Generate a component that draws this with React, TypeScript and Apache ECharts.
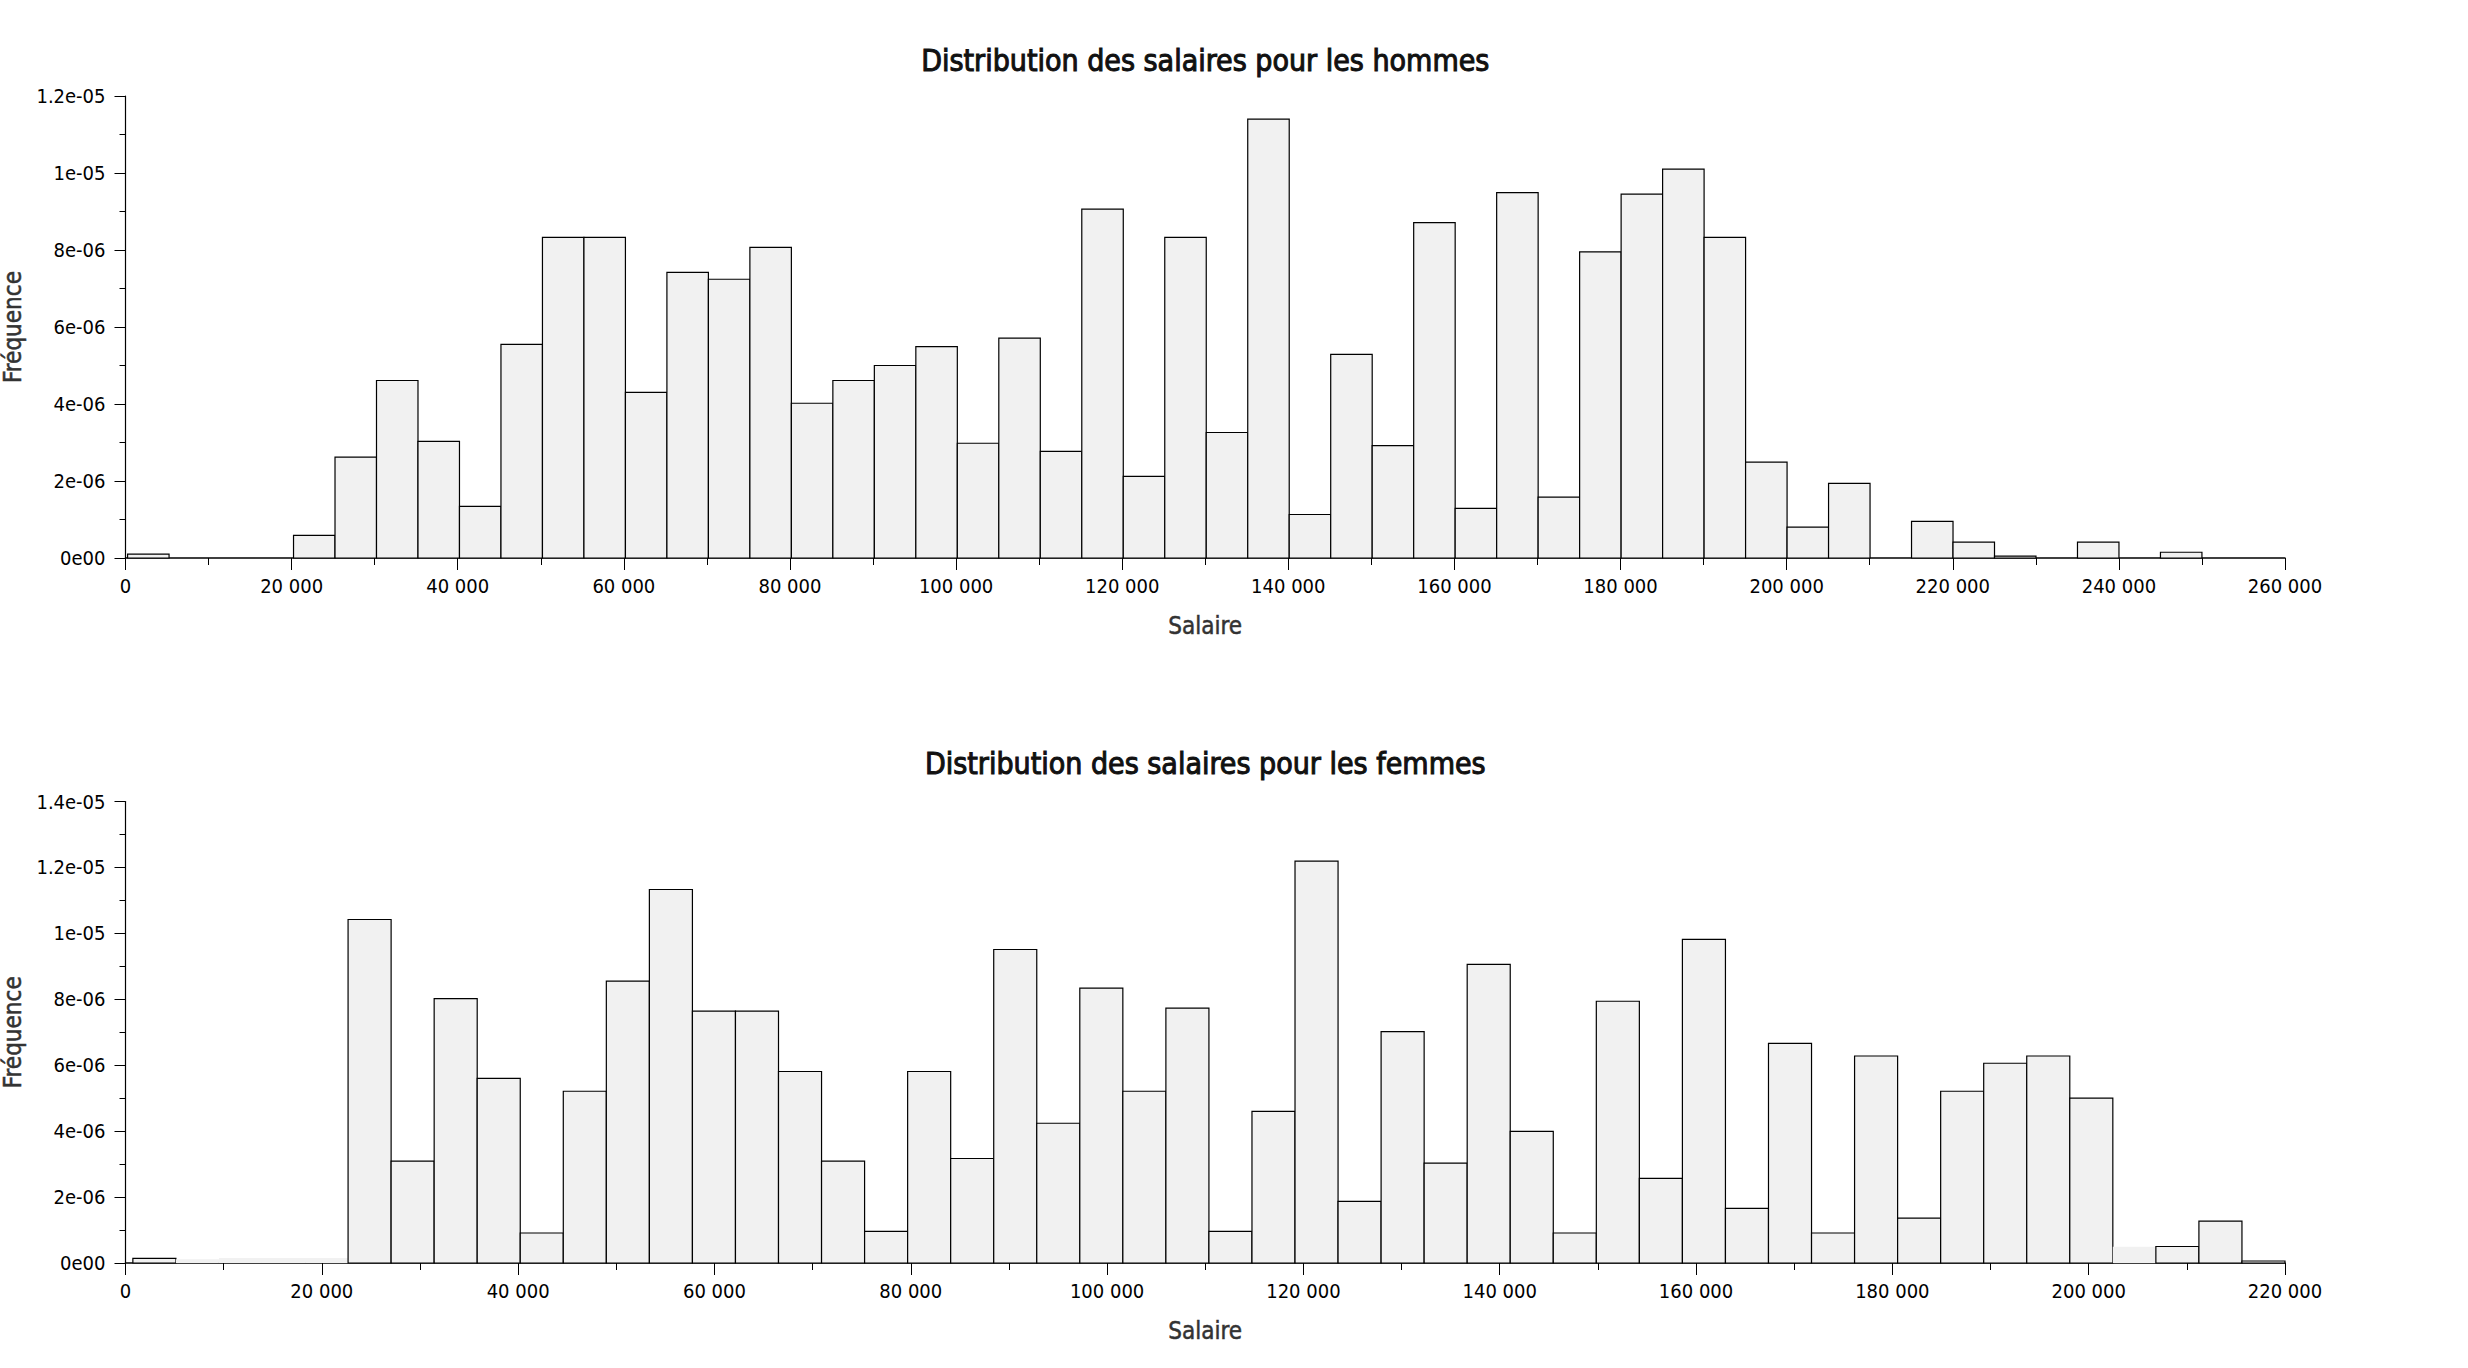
import React, { useEffect, useRef } from "react";
import * as echarts from "echarts";

// Histogramme des hommes : 50 classes, fréquences en unités de 1e-6
const hommesBinStart = 250;
const hommesBinWidth = 4995;
const hommesFreq = [
  0.1, 0, 0, 0, 0.59, 2.62, 4.61, 3.03, 1.34, 5.55,
  8.33, 8.33, 4.3, 7.42, 7.24, 8.07, 4.02, 4.61, 5.0, 5.49,
  2.98, 5.71, 2.77, 9.06, 2.12, 8.33, 3.26, 11.4, 1.13, 5.29,
  2.92, 8.71, 1.29, 9.49, 1.58, 7.95, 9.45, 10.1, 8.33, 2.49,
  0.8, 1.94, 0, 0.95, 0.41, 0.05, 0, 0.41, 0, 0.15,
];

// Histogramme des femmes : 50 classes, fréquences en unités de 1e-6
const femmesBinStart = 750;
const femmesBinWidth = 4385;
const femmesFreq = [
  0.14, 0.11, 0.15, 0.15, 0.15, 10.42, 3.09, 8.02, 5.6, 0.91,
  5.21, 8.55, 11.33, 7.64, 7.64, 5.81, 3.09, 0.96, 5.81, 3.17,
  9.51, 4.24, 8.34, 5.21, 7.73, 0.96, 4.6, 12.19, 1.87, 7.02,
  3.03, 9.06, 3.99, 0.91, 7.94, 2.57, 9.82, 1.66, 6.66, 0.91,
  6.28, 1.36, 5.21, 6.06, 6.28, 5.0, 0.49, 0.5, 1.27, 0.06,
];
// classes dessinées sans contour dans l'original
const femmesSansContour = [1, 2, 3, 4, 46];

const titles = [
  "Distribution des salaires pour les hommes",
  "Distribution des salaires pour les femmes",
];
const xName = "Salaire";
const yName = "Fréquence";
const xMax = [260000, 220000];
const yMax = [1.2e-5, 1.4e-5];

const FONT = "'DejaVu Sans Condensed', 'DejaVu Sans', sans-serif";

function buildData(start: number, width: number, freq: number[]) {
  return freq.map((f, i) => [start + i * width, start + (i + 1) * width, f * 1e-6, i]);
}

function fmtX(v: number) {
  return String(Math.round(v)).replace(/\B(?=(\d{3})+(?!\d))/g, " ");
}

function fmtY(v: number) {
  if (Math.abs(v) < 1e-12) return "0e00";
  const s = Number(v.toPrecision(6)).toExponential();
  return s.replace(/e([+-])(\d)$/, "e$10$2");
}

export default function App() {
  const ref = useRef<HTMLDivElement>(null);
  useEffect(() => {
    if (!ref.current) return;
    const chart = echarts.init(ref.current, undefined, { renderer: "svg" });

    const plotLeft = 125.5;
    const plotRight = 2285;
    const grids = [
      { left: plotLeft, top: 96, width: plotRight - plotLeft, height: 462, containLabel: false, outerBoundsMode: "none" },
      { left: plotLeft, top: 801.5, width: plotRight - plotLeft, height: 461.5, containLabel: false, outerBoundsMode: "none" },
    ];
    const titleY = [60, 763.5];

    const mkRender = (noBorder: number[]) => (params: any, api: any) => {
      const x0 = api.value(0);
      const x1 = api.value(1);
      const y = api.value(2);
      const idx = api.value(3);
      if (!(y > 0)) return null;
      const p0 = api.coord([x0, y]);
      const p1 = api.coord([x1, 0]);
      const bordered = noBorder.indexOf(idx) < 0;
      return {
        type: "rect",
        shape: { x: p0[0], y: p0[1], width: p1[0] - p0[0], height: p1[1] - p0[1] },
        style: {
          fill: "#f1f1f1",
          stroke: bordered ? "#000" : null,
          lineWidth: bordered ? 1.2 : 0,
        },
      };
    };

    const nameStyle = {
      fontFamily: FONT,
      fontSize: 24,
      fontWeight: "normal",
      color: "#333",
      textBorderColor: "#333",
      textBorderWidth: 0.5,
    };

    const xAxisBase = (i: number) => ({
      type: "value",
      gridIndex: i,
      min: 0,
      max: xMax[i],
      interval: 20000,
      name: xName,
      nameLocation: "middle",
      nameGap: 56,
      nameTextStyle: nameStyle,
      axisLine: { show: true, onZero: false, lineStyle: { color: "#000", width: 1.5 } },
      axisTick: { show: true, inside: false, length: 12, lineStyle: { color: "#000", width: 1 } },
      minorTick: { show: true, splitNumber: 2, length: 7, lineStyle: { color: "#000", width: 1 } },
      splitLine: { show: false },
      minorSplitLine: { show: false },
      axisLabel: { margin: 18, fontFamily: FONT, fontSize: 20, color: "#000", formatter: fmtX },
    });

    const yAxisBase = (i: number) => ({
      type: "value",
      gridIndex: i,
      min: 0,
      max: yMax[i],
      interval: 2e-6,
      name: yName,
      nameLocation: "middle",
      nameRotate: 90,
      nameGap: 99,
      nameTextStyle: nameStyle,
      axisLine: { show: true, onZero: false, lineStyle: { color: "#000", width: 1.2 } },
      axisTick: { show: true, inside: false, length: 11, lineStyle: { color: "#000", width: 1 } },
      minorTick: { show: true, splitNumber: 2, length: 6, lineStyle: { color: "#000", width: 1 } },
      splitLine: { show: false },
      minorSplitLine: { show: false },
      axisLabel: { margin: 20, fontFamily: FONT, fontSize: 20, color: "#000", formatter: fmtY },
    });

    chart.setOption({
      animation: false,
      backgroundColor: "#ffffff",
      title: titles.map((t, i) => ({
        text: t,
        left: (plotLeft + plotRight) / 2,
        top: titleY[i],
        textAlign: "center",
        textVerticalAlign: "middle",
        padding: 0,
        textStyle: {
          fontFamily: FONT,
          fontSize: 30,
          fontWeight: "normal",
          color: "#111",
          textBorderColor: "#111",
          textBorderWidth: 1,
        },
      })),
      grid: grids,
      xAxis: [xAxisBase(0), xAxisBase(1)],
      yAxis: [yAxisBase(0), yAxisBase(1)],
      series: [
        {
          type: "custom",
          name: "Hommes",
          xAxisIndex: 0,
          yAxisIndex: 0,
          renderItem: mkRender([]),
          encode: { x: [0, 1], y: 2 },
          data: buildData(hommesBinStart, hommesBinWidth, hommesFreq),
        },
        {
          type: "custom",
          name: "Femmes",
          xAxisIndex: 1,
          yAxisIndex: 1,
          renderItem: mkRender(femmesSansContour),
          encode: { x: [0, 1], y: 2 },
          data: buildData(femmesBinStart, femmesBinWidth, femmesFreq),
        },
      ],
    });

    return () => chart.dispose();
  }, []);

  return (
    <div
      ref={ref}
      style={{ position: "absolute", left: 0, top: 0, width: 2468, height: 1368, background: "#fff" }}
    />
  );
}
